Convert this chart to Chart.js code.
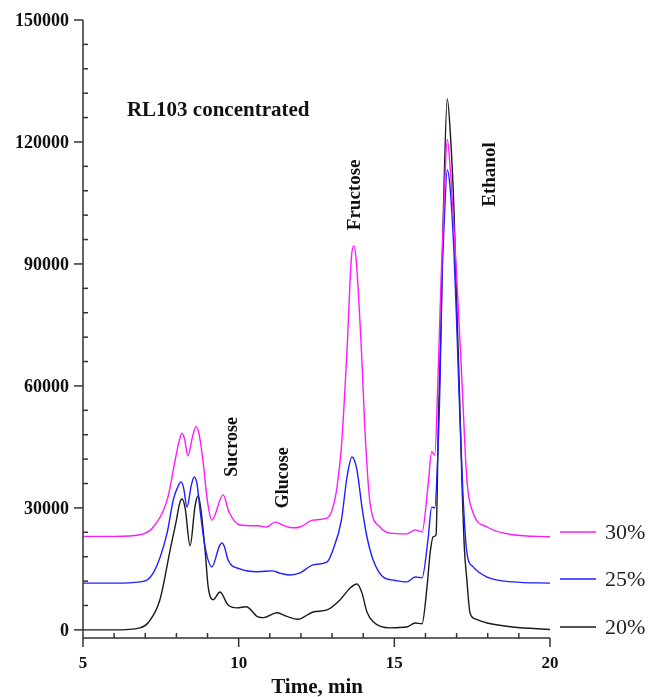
<!DOCTYPE html>
<html>
<head>
<meta charset="utf-8">
<script src="https://cdn.jsdelivr.net/npm/chart.js@4"></script>
<style>
    html, body { margin: 0; padding: 0; background: #fff; }
    #wrap { width: 658px; height: 697px; }
</style>
</head>
<body>
<div id="wrap"><canvas id="chromChart" width="658" height="697"></canvas></div>
<script>
// 色谱数据 (时间 min / 信号)
const seriesLabels = ['30%', '25%', '20%'];
const seriesColors = ['#ff1aff', '#1f1fff', '#1a1a1a'];

const time30 = [5, 6, 6.83, 7.26, 7.73, 7.96, 8.1, 8.18, 8.26, 8.37, 8.52, 8.63, 8.72, 8.85, 9.0, 9.14, 9.5, 9.69, 10.04, 10.62, 10.9, 11.17, 11.5, 11.75, 11.97, 12.39, 12.84, 13.03, 13.16, 13.3, 13.48, 13.62, 13.7, 13.78, 13.96, 14.05, 14.22, 14.54, 14.86, 15.4, 15.67, 15.89, 16.08, 16.2, 16.3, 16.4, 16.5, 16.6, 16.7, 16.8, 16.95, 17.05, 17.17, 17.33, 17.53, 17.98, 18.8, 20];
const signal30 = [23000, 23000, 23400, 25300, 32700, 41800, 46800, 48400, 47000, 42800, 47600, 50000, 48500, 41800, 31500, 27000, 33200, 29000, 25800, 25600, 25300, 26500, 25500, 25100, 25300, 27000, 27500, 30200, 35200, 45000, 68800, 91500, 94500, 90500, 66000, 50000, 31200, 25300, 23800, 23600, 24600, 24100, 35200, 43800, 43000, 61500, 86000, 106000, 120700, 113000, 94200, 80000, 61500, 36900, 28800, 25300, 23400, 22900];

const time25 = [5, 6, 6.83, 7.26, 7.7, 7.9, 8.07, 8.15, 8.23, 8.34, 8.48, 8.57, 8.66, 8.76, 8.92, 9.14, 9.38, 9.46, 9.54, 9.66, 10.04, 10.62, 11.07, 11.35, 11.65, 11.97, 12.39, 12.84, 13.03, 13.3, 13.48, 13.64, 13.8, 13.96, 14.12, 14.32, 14.64, 15.0, 15.4, 15.67, 15.89, 16.08, 16.2, 16.3, 16.38, 16.47, 16.53, 16.6, 16.7, 16.8, 16.92, 17.0, 17.08, 17.2, 17.33, 17.53, 17.98, 18.8, 20];
const signal25 = [11500, 11500, 11800, 14000, 23800, 32000, 35600, 36400, 35000, 30200, 35600, 37600, 36000, 29500, 20400, 15500, 20600, 21400, 20500, 17200, 15000, 14300, 14500, 13900, 13500, 14000, 16000, 16700, 19700, 27000, 37600, 42500, 39300, 30200, 22900, 17200, 13000, 12200, 11800, 13000, 12800, 22100, 30200, 30000, 40000, 61500, 86000, 100000, 113100, 108000, 92000, 76000, 58000, 34000, 19000, 15500, 13000, 11800, 11500];

const time20 = [5, 6, 6.83, 7.1, 7.47, 7.8, 8.0, 8.1, 8.18, 8.28, 8.44, 8.6, 8.7, 8.78, 8.92, 9.02, 9.18, 9.4, 9.66, 9.95, 10.24, 10.62, 10.8, 11.23, 11.55, 11.9, 12.39, 12.84, 13.26, 13.58, 13.8, 13.96, 14.12, 14.32, 14.86, 15.4, 15.67, 15.89, 16.05, 16.15, 16.25, 16.34, 16.42, 16.5, 16.58, 16.7, 16.8, 16.92, 16.98, 17.08, 17.17, 17.25, 17.33, 17.43, 17.6, 17.98, 18.8, 20];
const signal20 = [0, 0, 500, 1800, 7400, 19700, 27000, 31000, 32200, 30000, 20700, 30500, 33000, 30000, 19700, 10600, 7400, 9300, 6100, 5400, 5700, 3200, 3000, 4200, 3300, 2600, 4400, 4900, 7400, 10300, 11300, 9100, 4400, 2000, 500, 700, 1700, 1500, 10600, 18900, 22900, 23400, 53000, 75000, 104000, 130600, 122000, 102500, 86000, 61500, 36900, 20000, 12300, 4200, 2700, 1700, 700, 100];

// 刻度
const xMajorTicks = [5, 10, 15, 20];
const xMinorTicks = [6, 7, 8, 9, 11, 12, 13, 14, 16, 17, 18, 19];
const yMajorTicks = [0, 30000, 60000, 90000, 120000, 150000];
const yMinorStep = 6000;

// 峰标注
const peakNotes = [
    { text: 'Sucrose', x: 9.79, y: 45000, size: 18 },
    { text: 'Glucose', x: 11.42, y: 37400, size: 18 },
    { text: 'Fructose', x: 13.74, y: 107000, size: 19 },
    { text: 'Ethanol', x: 18.07, y: 112000, size: 19 }
];

const SERIF = '"Liberation Serif", "Times New Roman", serif';

function toPoints(ts, vs) {
    return ts.map((t, i) => ({ x: t, y: vs[i] }));
}

const axesPlugin = {
    id: 'axesPlugin',
    afterDraw(chart) {
        const { ctx, chartArea } = chart;
        const xs = chart.scales.x;
        const ys = chart.scales.y;
        const axisY = chartArea.bottom;
        const axisX = chartArea.left;

        ctx.save();
        ctx.strokeStyle = '#333';
        ctx.fillStyle = '#111';
        ctx.lineWidth = 1.5;

        // 坐标轴线
        ctx.beginPath();
        ctx.moveTo(axisX, ys.getPixelForValue(150000));
        ctx.lineTo(axisX, axisY);
        ctx.lineTo(xs.getPixelForValue(20), axisY);
        ctx.stroke();

        // y 轴刻度
        ctx.font = 'bold 18px ' + SERIF;
        ctx.textAlign = 'right';
        ctx.textBaseline = 'middle';
        yMajorTicks.forEach(v => {
            const py = ys.getPixelForValue(v);
            ctx.beginPath();
            ctx.moveTo(axisX - 9, py);
            ctx.lineTo(axisX, py);
            ctx.stroke();
            ctx.fillText(String(v), axisX - 14, py + 1);
        });
        for (let v = yMinorStep; v < 150000; v += yMinorStep) {
            if (v % 30000 === 0) continue;
            const py = ys.getPixelForValue(v);
            ctx.beginPath();
            ctx.moveTo(axisX, py);
            ctx.lineTo(axisX + 5, py);
            ctx.stroke();
        }

        // x 轴刻度
        ctx.font = 'bold 17px ' + SERIF;
        ctx.textAlign = 'center';
        xMajorTicks.forEach(t => {
            const px = xs.getPixelForValue(t);
            ctx.beginPath();
            ctx.moveTo(px, axisY);
            ctx.lineTo(px, axisY + 9);
            ctx.stroke();
            ctx.fillText(String(t), px, axisY + 26);
        });
        xMinorTicks.forEach(t => {
            const px = xs.getPixelForValue(t);
            ctx.beginPath();
            ctx.moveTo(px, axisY);
            ctx.lineTo(px, axisY - 5);
            ctx.stroke();
        });

        // 轴标题
        ctx.font = 'bold 21px ' + SERIF;
        ctx.fillText('Time, min', xs.getPixelForValue(12.52), axisY + 50);

        // 图内标题
        ctx.textAlign = 'left';
        ctx.fillText('RL103 concentrated', xs.getPixelForValue(6.41), ys.getPixelForValue(127800));

        // 峰名称 (竖排)
        ctx.textAlign = 'center';
        peakNotes.forEach(n => {
            ctx.save();
            ctx.font = 'bold ' + n.size + 'px ' + SERIF;
            ctx.translate(xs.getPixelForValue(n.x), ys.getPixelForValue(n.y));
            ctx.rotate(-Math.PI / 2);
            ctx.fillText(n.text, 0, 0);
            ctx.restore();
        });

        // 图例
        const legendY = [532, 579, 627];
        ctx.font = '22px ' + SERIF;
        ctx.textAlign = 'left';
        seriesLabels.forEach((label, i) => {
            ctx.strokeStyle = seriesColors[i];
            ctx.lineWidth = 1.5;
            ctx.beginPath();
            ctx.moveTo(560, legendY[i]);
            ctx.lineTo(596, legendY[i]);
            ctx.stroke();
            ctx.fillStyle = '#222';
            ctx.fillText(label, 605, legendY[i] + 1);
        });

        ctx.restore();
    }
};

const ctx = document.getElementById('chromChart').getContext('2d');
new Chart(ctx, {
    type: 'line',
    data: {
        datasets: [
            { label: seriesLabels[0], data: toPoints(time30, signal30), borderColor: seriesColors[0] },
            { label: seriesLabels[1], data: toPoints(time25, signal25), borderColor: seriesColors[1] },
            { label: seriesLabels[2], data: toPoints(time20, signal20), borderColor: seriesColors[2] }
        ]
    },
    options: {
        responsive: false,
        animation: false,
        layout: { padding: { left: 83, right: 108, top: 20, bottom: 59 } },
        elements: {
            line: { borderWidth: 1.4, cubicInterpolationMode: 'monotone', fill: false },
            point: { radius: 0 }
        },
        plugins: {
            legend: { display: false },
            tooltip: { enabled: false }
        },
        scales: {
            x: { type: 'linear', min: 5, max: 20, display: false },
            y: { type: 'linear', min: -2000, max: 150000, display: false }
        }
    },
    plugins: [axesPlugin]
});
</script>
</body>
</html>
